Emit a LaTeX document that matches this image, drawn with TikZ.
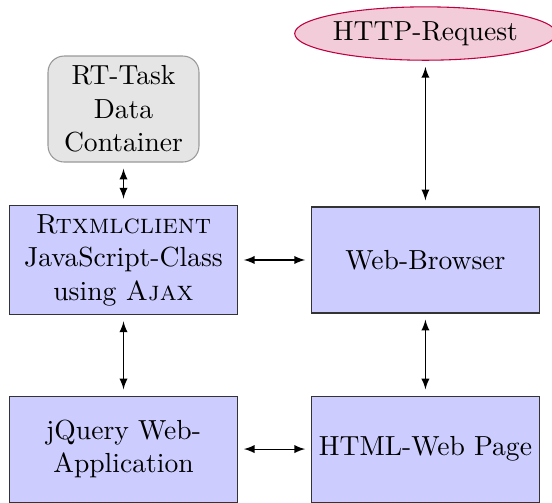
\documentclass[tikz,border=0pt]{standalone}
\usetikzlibrary{arrows,shapes.geometric}
\definecolor{BoxClr}{rgb}{0.8,0.8,1}
\definecolor{ReqClr}{rgb}{0.95,0.8,0.85}
\definecolor{ReqLine}{rgb}{0.75,0,0.25}

\begin{document}
\begin{tikzpicture}[>=latex,font=\fontsize{10.3pt}{12.5pt}\selectfont,
  block/.style={draw=black!80,fill=BoxClr,align=center,inner xsep=1.5pt,minimum width=2.98cm,minimum height=1.39cm},
  store/.style={draw=black!40,fill=black!10,rounded corners=6pt,align=center,minimum width=1.98cm,minimum height=1.39cm},
  request/.style={ellipse,draw=ReqLine,fill=ReqClr,minimum width=3.42cm,minimum height=0.7cm,inner sep=0pt},
  link/.style={<->,shorten <=2.3pt,shorten >=2.3pt}]
\useasboundingbox (0,0) rectangle (7.24,-6.59);

\node[store] (task) at (1.62,-1.43) {RT-Task\\Data\\Container};
\node[block] (client) at (1.62,-3.41) {\textsc{Rtxmlclient}\\JavaScript-Class\\using \textsc{Ajax}};
\node[block] (browser) at (5.58,-3.41) {Web-Browser};
\node[block] (jquery) at (1.62,-5.89) {jQuery Web-\\Application};
\node[block] (page) at (5.58,-5.89) {HTML-Web Page};
\node[request] (http) at (5.58,-0.44) {HTTP-Request};

\draw[link] (task) -- (client);
\draw[link] (client) -- (browser);
\draw[link] (client) -- (jquery);
\draw[link] (jquery) -- (page);
\draw[link] (browser) -- (page);
\draw[link] (http) -- (browser);

\end{tikzpicture}
\end{document}
